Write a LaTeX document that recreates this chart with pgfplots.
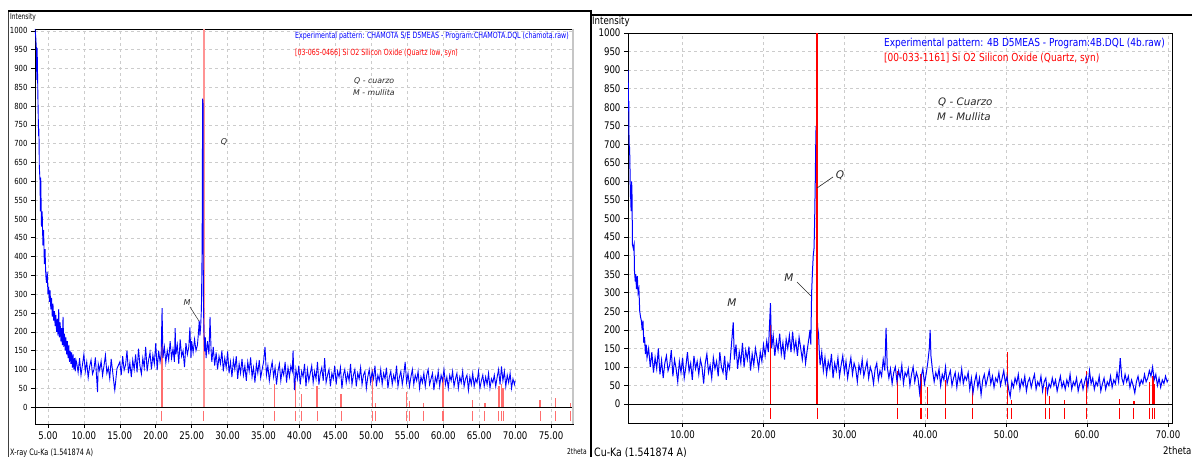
\documentclass[border=0pt]{standalone}
\usepackage{fontspec}
\setmainfont{DejaVu Sans}
\newfontfamily\tah[FakeStretch=0.82]{DejaVu Sans}
\newfontfamily\tahn[FakeStretch=0.74]{DejaVu Sans}
\usepackage{pgfplots}
\pgfplotsset{compat=1.18}
\definecolor{xblue}{RGB}{0,0,255}
\definecolor{xred}{RGB}{255,0,0}
\definecolor{xpink}{RGB}{255,110,110}
\definecolor{annot}{RGB}{40,40,40}

\pgfplotsset{
  xrd/.style={
    scale only axis, clip=true,
    axis line style={black, line width=0.8pt},
    grid=major,
    grid style={gray!40, dash pattern=on 3pt off 3pt, line width=0.5pt},
    tick align=outside, major tick length=4pt,
    tick style={black, line width=0.6pt},
    xtick pos=bottom, ytick pos=left,
    ytick={0,50,...,1000},
    /pgf/number format/assume math mode=true,
    /pgf/number format/1000 sep={},
    xticklabel={\pgfmathprintnumber[fixed,fixed zerofill,precision=2]{\tick}},
    unbounded coords=jump,
  },
}

\begin{document}
\begin{tikzpicture}[x=1pt,y=1pt]
\clip (0,0) rectangle (1192,457);
\fill[white] (0,0) rectangle (1192,457);

% ---------------- left panel: CHAMOTA ----------------
\begin{axis}[xrd,
  at={(35pt,33pt)}, anchor=south west,
  width=538pt, height=395pt,
  xmin=3.2, xmax=78.05, ymin=-45, ymax=1005,
  xtick={5,10,...,75},
  yticklabel style={font=\tah\fontsize{8.4}{9}\selectfont},
  xticklabel style={font=\tah\fontsize{10.5}{12}\selectfont},
]
% reference sticks (Quartz low)
\addplot[xpink, line width=1.3pt, forget plot] coordinates {
  (20.86,0)(20.86,215)(20.86,nan)
  (36.54,0)(36.54,60)(36.54,nan) (39.47,0)(39.47,70)(39.47,nan)
  (40.29,0)(40.29,35)(40.29,nan) (42.45,0)(42.45,55)(42.45,nan)
  (45.79,0)(45.79,35)(45.79,nan) (50.14,0)(50.14,100)(50.14,nan)
  (50.62,0)(50.62,10)(50.62,nan) (54.87,0)(54.87,40)(54.87,nan)
  (55.33,0)(55.33,15)(55.33,nan) (57.24,0)(57.24,10)(57.24,nan)
  (59.96,0)(59.96,80)(59.96,nan) (64.03,0)(64.03,20)(64.03,nan)
  (65.79,0)(65.79,10)(65.79,nan) (67.74,0)(67.74,55)(67.74,nan)
  (68.14,0)(68.14,60)(68.14,nan) (68.32,0)(68.32,50)(68.32,nan)
  (73.47,0)(73.47,20)(73.47,nan) (75.66,0)(75.66,25)(75.66,nan)
  (77.67,0)(77.67,12)
};
\addplot[red!42, line width=1.8pt, forget plot] coordinates {(26.66,0)(26.66,1005)};
% experimental pattern
\addplot[xblue, line width=0.9pt, forget plot] coordinates {
(3.2,1005)(3.3,985)(3.4,950)(3.45,870)(3.5,955)(3.6,830)(3.7,720)(3.75,740)(3.8,640)(3.9,600)
(3.95,520)(4.0,610)(4.1,480)(4.2,520)(4.3,430)(4.4,470)(4.5,380)(4.6,420)(4.7,350)(4.8,330)
(4.9,360)(5.0,300)(5.1,320)(5.2,280)(5.3,310)(5.4,260)(5.5,290)(5.6,240)(5.7,275)(5.8,230)
(5.9,255)(6.0,215)(6.1,245)(6.2,200)(6.3,235)(6.4,190)(6.5,260)(6.6,185)(6.7,225)(6.8,175)
(6.9,210)(7.0,165)(7.1,240)(7.2,160)(7.3,195)(7.4,150)(7.5,185)(7.6,140)(7.7,175)(7.8,130)
(7.9,165)(8.0,120)(8.1,150)(8.2,115)(8.3,145)(8.4,105)(8.5,140)(8.6,100)(8.7,130)(8.8,95)
(8.9,125)
(9.0,118)(9.2,92)(9.4,130)(9.6,85)(9.8,112)(10.0,140)(10.2,95)(10.4,120)(10.6,78)(10.8,108)
(11.0,125)(11.2,88)(11.4,100)(11.6,132)(11.8,70)(11.9,40)(12.0,115)(12.2,98)(12.4,122)(12.6,84)
(12.8,110)(13.0,138)(13.2,90)(13.4,105)(13.6,76)(13.8,128)(14.0,95)(14.2,60)(14.3,45)(14.6,102)
(15.0,120)(15.2,85)(15.4,135)(15.6,98)(15.8,112)(16.0,150)(16.2,90)(16.4,118)(16.6,80)(16.8,125)
(17.0,100)(17.2,140)(17.4,92)(17.6,155)(17.8,110)(18.0,88)(18.2,130)(18.4,105)(18.6,160)(18.8,95)
(19.0,125)(19.2,145)(19.4,100)(19.6,138)(19.8,115)(20.0,170)(20.2,98)(20.4,150)(20.6,120)(20.75,140)
(20.88,263)(21.0,130)(21.2,160)(21.4,118)(21.6,150)(21.8,125)(22.0,175)(22.2,130)(22.4,155)(22.6,120)
(22.7,210)(22.8,140)(23.0,165)(23.2,115)(23.4,180)(23.6,135)(23.8,150)(24.0,106)(24.2,170)(24.4,140)
(24.6,160)(24.75,212)(24.9,130)(25.0,175)(25.2,145)(25.4,180)(25.6,150)(25.8,165)(25.95,200)(26.05,230)
(26.15,190)(26.25,215)(26.35,260)(26.45,420)(26.52,820)(26.58,810)(26.62,300)(26.7,200)(26.8,148)(26.9,185)
(27.0,130)(27.2,175)(27.4,140)(27.55,240)(27.7,150)(27.8,120)(28.0,160)(28.2,110)(28.4,145)(28.6,100)
(28.8,135)(29.0,115)(29.2,150)(29.4,95)(29.6,130)(29.8,105)(30.0,148)(30.2,90)(30.4,120)(30.6,80)
(30.8,125)(31.0,100)(31.2,135)(31.4,75)(31.6,115)(31.8,90)(32.0,128)(32.2,85)(32.4,110)(32.6,70)
(32.8,120)(33.0,95)(33.2,132)(33.4,80)(33.6,105)(33.8,65)(34.0,115)(34.2,90)(34.4,125)(34.6,78)
(34.8,100)(35.0,120)(35.2,160)(35.4,85)(35.6,110)(35.8,70)(36.0,100)(36.2,120)(36.4,80)(36.6,105)
(36.8,60)(37.0,95)(37.2,115)(37.4,70)(37.6,100)(37.8,85)(38.0,120)(38.2,65)(38.4,105)(38.6,80)
(38.8,110)(39.0,95)(39.1,150)(39.3,45)(39.5,100)(39.7,75)(39.9,110)(40.1,60)(40.3,95)(40.5,80)
(40.7,115)(40.9,55)(41.1,100)(41.3,70)(41.5,90)(41.7,110)(41.9,65)(42.1,95)(42.3,75)(42.5,120)
(42.7,60)(42.9,90)(43.1,105)(43.3,70)(43.5,130)(43.7,65)(43.9,85)(44.1,100)(44.3,55)(44.5,90)
(44.7,75)(44.9,110)(45.1,60)(45.3,95)(45.5,80)(45.7,105)(45.9,50)(46.1,85)(46.3,100)(46.5,65)
(46.7,90)(46.9,70)(47.1,115)(47.3,60)(47.5,85)(47.7,100)(47.9,55)(48.1,90)(48.3,75)(48.5,105)
(48.7,60)(48.9,85)(49.1,95)(49.3,50)(49.5,80)(49.7,100)(49.9,65)(50.1,95)(50.3,75)(50.5,110)
(50.7,55)(50.9,85)(51.1,70)(51.3,100)(51.5,60)(51.7,90)(51.9,75)(52.1,105)(52.3,50)(52.5,80)
(52.7,95)(52.9,60)(53.1,85)(53.3,70)(53.5,110)(53.7,55)(53.9,80)(54.1,95)(54.3,60)(54.5,85)
(54.7,120)(54.9,65)(55.1,90)(55.3,55)(55.5,80)(55.7,100)(55.9,60)(56.1,85)(56.3,70)(56.5,95)
(56.7,50)(56.9,80)(57.1,65)(57.3,90)(57.5,55)(57.7,85)(57.9,100)(58.1,60)(58.3,75)(58.5,90)
(58.7,45)(58.9,80)(59.1,65)(59.3,95)(59.5,55)(59.7,85)(59.9,70)(60.1,100)(60.3,60)(60.5,80)
(60.7,50)(60.9,85)(61.1,70)(61.3,95)(61.5,55)(61.7,75)(61.9,90)(62.1,50)(62.3,80)(62.5,65)
(62.7,95)(62.9,55)(63.1,75)(63.3,85)(63.5,45)(63.7,80)(63.9,60)(64.1,90)(64.3,55)(64.5,75)
(64.7,65)(64.9,95)(65.1,50)(65.3,70)(65.5,85)(65.7,55)(65.9,80)(66.1,60)(66.3,90)(66.5,50)
(66.7,75)(66.9,65)(67.1,85)(67.3,55)(67.5,80)(67.7,100)(67.9,60)(68.1,108)(68.3,70)(68.5,95)
(68.7,55)(68.9,85)(69.1,65)(69.3,90)(69.5,50)(69.7,75)(69.9,60)(70.0,70)
};
% zero line
\addplot[black, line width=0.8pt, forget plot] coordinates {(3.2,0)(78.05,0)};
% reference sticks below zero
\addplot[xpink, line width=1.1pt, forget plot] coordinates {
  (20.86,-10)(20.86,-37)(20.86,nan) (26.66,-10)(26.66,-37)(26.66,nan)
  (36.54,-10)(36.54,-37)(36.54,nan) (39.47,-10)(39.47,-37)(39.47,nan)
  (40.29,-10)(40.29,-37)(40.29,nan) (42.45,-10)(42.45,-37)(42.45,nan)
  (45.79,-10)(45.79,-37)(45.79,nan) (50.14,-10)(50.14,-37)(50.14,nan)
  (50.62,-10)(50.62,-37)(50.62,nan) (54.87,-10)(54.87,-37)(54.87,nan)
  (55.33,-10)(55.33,-37)(55.33,nan) (57.24,-10)(57.24,-37)(57.24,nan)
  (59.96,-10)(59.96,-37)(59.96,nan) (64.03,-10)(64.03,-37)(64.03,nan)
  (65.79,-10)(65.79,-37)(65.79,nan) (67.74,-10)(67.74,-37)(67.74,nan)
  (68.14,-10)(68.14,-37)(68.14,nan) (68.32,-10)(68.32,-37)(68.32,nan)
  (73.47,-10)(73.47,-37)(73.47,nan) (75.66,-10)(75.66,-37)(75.66,nan)
  (77.67,-10)(77.67,-37)
};
\end{axis}

% ---------------- right panel: 4B ----------------
\begin{axis}[xrd,
  at={(628pt,34pt)}, anchor=south west,
  width=544pt, height=390pt,
  xmin=3.25, xmax=70.5, ymin=-51, ymax=1000,
  xtick={10,20,...,70},
  yticklabel style={font=\tah\fontsize{10.5}{12}\selectfont},
  xticklabel style={font=\tah\fontsize{10.5}{12}\selectfont},
]
\addplot[xred, line width=1.2pt, forget plot] coordinates {
  (20.86,0)(20.86,220)(20.86,nan)
  (36.54,0)(36.54,90)(36.54,nan) (39.47,0)(39.47,80)(39.47,nan)
  (40.29,0)(40.29,45)(40.29,nan) (42.45,0)(42.45,65)(42.45,nan)
  (45.79,0)(45.79,45)(45.79,nan) (50.14,0)(50.14,140)(50.14,nan)
  (50.62,0)(50.62,10)(50.62,nan) (54.87,0)(54.87,45)(54.87,nan)
  (55.33,0)(55.33,22)(55.33,nan) (57.24,0)(57.24,10)(57.24,nan)
  (59.96,0)(59.96,90)(59.96,nan) (64.03,0)(64.03,15)(64.03,nan)
  (65.79,0)(65.79,8)(65.79,nan) (67.74,0)(67.74,60)(67.74,nan)
  (68.14,0)(68.14,75)(68.14,nan) (68.32,0)(68.32,55)
};
\addplot[xblue, line width=1pt, forget plot] coordinates {
(3.27,900)(3.3,800)(3.35,805)(3.38,700)(3.45,690)(3.5,630)(3.55,560)(3.6,550)(3.63,520)(3.7,600)
(3.75,560)(3.8,430)(3.9,420)(4.0,430)(4.05,360)(4.15,330)(4.2,350)(4.3,310)(4.4,345)(4.5,300)
(4.6,310)(4.7,250)(4.8,235)(4.9,225)(5.0,200)(5.1,225)(5.2,165)(5.3,180)(5.4,135)(5.5,160)
(5.6,125)(5.8,150)
(6.0,100)(6.2,140)(6.4,85)(6.6,125)(6.8,95)(7.0,150)(7.2,80)(7.4,118)(7.6,70)(7.8,110)
(8.0,130)(8.2,90)(8.4,105)(8.6,145)(8.8,75)(9.0,120)(9.2,95)(9.4,60)(9.6,115)(9.8,85)
(10.0,125)(10.2,70)(10.4,100)(10.6,140)(10.8,88)(11.0,110)(11.2,65)(11.4,130)(11.6,95)(11.8,115)
(12.0,80)(12.2,120)(12.4,100)(12.6,55)(12.8,110)(13.0,135)(13.2,85)(13.4,105)(13.6,70)(13.8,125)
(14.0,95)(14.2,115)(14.4,75)(14.6,140)(14.8,100)(15.0,85)(15.2,130)(15.4,65)(15.6,110)(15.8,95)
(16.0,150)(16.26,220)(16.4,120)(16.6,160)(16.8,95)(17.0,140)(17.2,110)(17.4,165)(17.6,100)(17.8,145)
(18.0,120)(18.2,155)(18.4,90)(18.6,135)(18.8,105)(19.0,150)(19.2,125)(19.4,95)(19.6,140)(19.8,115)
(20.0,160)(20.2,130)(20.4,170)(20.6,140)(20.86,272)(21.0,150)(21.2,185)(21.4,130)(21.6,170)(21.8,145)
(22.0,190)(22.2,135)(22.4,165)(22.6,120)(22.8,175)(23.0,150)(23.2,185)(23.4,140)(23.6,195)(23.8,145)
(24.0,170)(24.2,130)(24.4,180)(24.6,150)(24.8,120)(25.0,160)(25.2,110)(25.4,145)(25.6,175)(25.75,200)
(25.85,160)(25.95,300)(26.05,355)(26.15,400)(26.25,420)(26.32,490)(26.4,600)(26.46,700)(26.5,750)(26.54,690)
(26.58,400)(26.68,210)(26.8,190)(26.9,140)(27.0,105)(27.2,140)(27.4,90)(27.6,125)(27.8,80)(28.0,115)
(28.2,95)(28.4,135)(28.6,70)(28.8,110)(29.0,90)(29.2,125)(29.4,75)(29.6,105)(29.8,130)(30.0,85)
(30.2,115)(30.4,70)(30.6,100)(30.8,125)(31.0,80)(31.2,110)(31.4,95)(31.6,60)(31.8,105)(32.0,85)
(32.2,120)(32.4,75)(32.6,95)(32.8,115)(33.0,70)(33.2,100)(33.4,85)(33.6,55)(33.8,95)(34.0,110)
(34.2,65)(34.4,90)(34.6,75)(34.8,120)(35.0,90)(35.15,205)(35.3,100)(35.5,70)(35.7,95)(35.9,55)
(36.1,85)(36.3,100)(36.5,60)(36.7,90)(36.9,70)(37.1,105)(37.3,55)(37.5,85)(37.7,75)(37.9,95)
(38.1,50)(38.3,80)(38.5,100)(38.7,60)(38.9,85)(39.1,70)(39.3,30)(39.5,75)(39.7,95)(39.9,55)
(40.1,80)(40.3,110)(40.5,150)(40.6,200)(40.7,130)(40.9,90)(41.1,60)(41.3,85)(41.5,70)(41.7,95)
(41.9,50)(42.1,80)(42.3,65)(42.5,100)(42.7,55)(42.9,75)(43.1,90)(43.3,50)(43.5,70)(43.7,85)
(43.9,45)(44.1,80)(44.3,60)(44.5,95)(44.7,55)(44.9,75)(45.1,65)(45.3,85)(45.5,40)(45.7,70)
(45.9,30)(46.1,60)(46.3,80)(46.5,45)(46.7,70)(46.9,25)(47.1,65)(47.3,80)(47.5,50)(47.7,70)
(47.9,90)(48.1,55)(48.3,75)(48.5,45)(48.7,70)(48.9,60)(49.1,85)(49.3,50)(49.5,70)(49.7,90)
(49.9,55)(50.1,75)(50.3,40)(50.5,20)(50.7,60)(50.9,45)(51.1,70)(51.3,55)(51.5,80)(51.7,40)
(51.9,65)(52.1,50)(52.3,75)(52.5,35)(52.7,60)(52.9,70)(53.1,45)(53.3,65)(53.5,80)(53.7,40)
(53.9,60)(54.1,50)(54.3,75)(54.5,35)(54.7,60)(54.9,70)(55.1,30)(55.3,55)(55.5,45)(55.7,70)
(55.9,50)(56.1,65)(56.3,35)(56.5,55)(56.7,75)(56.9,45)(57.1,60)(57.3,40)(57.5,65)(57.7,50)
(57.9,80)(58.1,40)(58.3,60)(58.5,50)(58.7,70)(58.9,35)(59.1,55)(59.3,65)(59.5,40)(59.7,60)
(59.9,75)(60.1,45)(60.3,90)(60.5,55)(60.7,70)(60.9,40)(61.1,60)(61.3,50)(61.5,75)(61.7,35)
(61.9,55)(62.1,70)(62.3,40)(62.5,60)(62.7,50)(62.9,75)(63.1,45)(63.3,65)(63.5,55)(63.7,85)
(63.9,60)(64.1,124)(64.3,70)(64.5,55)(64.7,80)(64.9,60)(65.1,75)(65.3,45)(65.5,65)(65.7,50)
(65.9,30)(66.1,60)(66.3,75)(66.5,50)(66.7,65)(66.9,55)(67.1,80)(67.3,60)(67.5,70)(67.7,90)
(67.9,75)(68.1,100)(68.3,65)(68.5,80)(68.7,50)(68.9,70)(69.1,45)(69.3,65)(69.5,55)(69.7,75)
(69.9,60)(70.0,65)
};
% quartz main line on top so it stays red
\addplot[xred, line width=1.8pt, forget plot] coordinates {(26.66,0)(26.66,1000)};
\addplot[black, line width=0.8pt, forget plot] coordinates {(3.25,0)(70.5,0)};
\addplot[xred, line width=1.1pt, forget plot] coordinates {
  (20.86,-10)(20.86,-40)(20.86,nan) (26.66,-10)(26.66,-40)(26.66,nan)
  (36.54,-10)(36.54,-40)(36.54,nan) (39.47,-10)(39.47,-40)(39.47,nan)
  (40.29,-10)(40.29,-40)(40.29,nan) (42.45,-10)(42.45,-40)(42.45,nan)
  (45.79,-10)(45.79,-40)(45.79,nan) (50.14,-10)(50.14,-40)(50.14,nan)
  (50.62,-10)(50.62,-40)(50.62,nan) (54.87,-10)(54.87,-40)(54.87,nan)
  (55.33,-10)(55.33,-40)(55.33,nan) (57.24,-10)(57.24,-40)(57.24,nan)
  (59.96,-10)(59.96,-40)(59.96,nan) (64.03,-10)(64.03,-40)(64.03,nan)
  (65.79,-10)(65.79,-40)(65.79,nan) (67.74,-10)(67.74,-40)(67.74,nan)
  (68.14,-10)(68.14,-40)(68.14,nan) (68.32,-10)(68.32,-40)
};
\end{axis}

% ---------------- frames and texts ----------------
\draw[gray!45, line width=2.2pt] (573,428) -- (573,33);
\draw[black!75, line width=1pt] (8,446) -- (8,0);
\draw[black, line width=2pt] (8,446) -- (591,446);
\draw[black, line width=2.2pt] (591,447) -- (591,0);
\draw[black, line width=2pt] (590,442) -- (1192,442);

% left panel texts
\node[anchor=west, inner sep=0, font=\tahn\fontsize{8}{9}\selectfont] at (10,440) {Intensity};
\node[anchor=west, inner sep=0, font=\tahn\fontsize{8.8}{10}\selectfont] at (10,4) {X-ray Cu-Ka (1.541874 A)};
\node[anchor=west, inner sep=0, font=\tahn\fontsize{8}{9}\selectfont] at (567,5) {2theta};
\node[anchor=west, inner sep=0, text=xblue, font=\tahn\fontsize{8.5}{10}\selectfont] at (295,421) {Experimental pattern: CHAMOTA S/E D5MEAS - Program:CHAMOTA.DQL (chamota.raw)};
\node[anchor=west, inner sep=0, text=xred, font=\tahn\fontsize{8.5}{10}\selectfont] at (295,404) {[03-065-0466] Si O2 Silicon Oxide (Quartz low, syn)};
\node[anchor=west, inner sep=0, text=annot, font=\fontsize{7.8}{9}\selectfont\itshape] at (354,376) {Q - cuarzo};
\node[anchor=west, inner sep=0, text=annot, font=\fontsize{7.8}{9}\selectfont\itshape] at (353,364) {M - mullita};
\node[inner sep=0, text=annot, font=\fontsize{8}{9}\selectfont\itshape] at (224,315) {Q};
\node[inner sep=0, text=annot, font=\fontsize{8}{9}\selectfont\itshape] at (187,154) {M};
\draw[annot, line width=0.5pt] (190,150) -- (199,136);

% right panel texts
\node[anchor=west, inner sep=0, font=\tah\fontsize{10.5}{12}\selectfont] at (592,435) {Intensity};
\node[anchor=west, inner sep=0, font=\tah\fontsize{11.5}{13}\selectfont] at (594,4) {Cu-Ka (1.541874 A)};
\node[anchor=west, inner sep=0, font=\tah\fontsize{10.5}{12}\selectfont] at (1163,6) {2theta};
\node[anchor=west, inner sep=0, text=xblue, font=\tah\fontsize{11}{13}\selectfont] at (884,414) {Experimental pattern: 4B D5MEAS - Program:4B.DQL (4b.raw)};
\node[anchor=west, inner sep=0, text=xred, font=\tah\fontsize{11}{13}\selectfont] at (884,399) {[00-033-1161] Si O2 Silicon Oxide (Quartz, syn)};
\node[anchor=west, inner sep=0, text=annot, font=\fontsize{10.3}{12}\selectfont\itshape] at (938,355) {Q - Cuarzo};
\node[anchor=west, inner sep=0, text=annot, font=\fontsize{10.3}{12}\selectfont\itshape] at (937,340) {M - Mullita};
\node[inner sep=0, text=annot, font=\fontsize{10.5}{12}\selectfont\itshape] at (840,282) {Q};
\draw[annot, line width=0.6pt] (833,280) -- (817,269);
\node[inner sep=0, text=annot, font=\fontsize{10.5}{12}\selectfont\itshape] at (789,179) {M};
\draw[annot, line width=0.6pt] (797,175) -- (811,161);
\node[inner sep=0, text=annot, font=\fontsize{10.5}{12}\selectfont\itshape] at (732,154) {M};
\end{tikzpicture}
\end{document}
